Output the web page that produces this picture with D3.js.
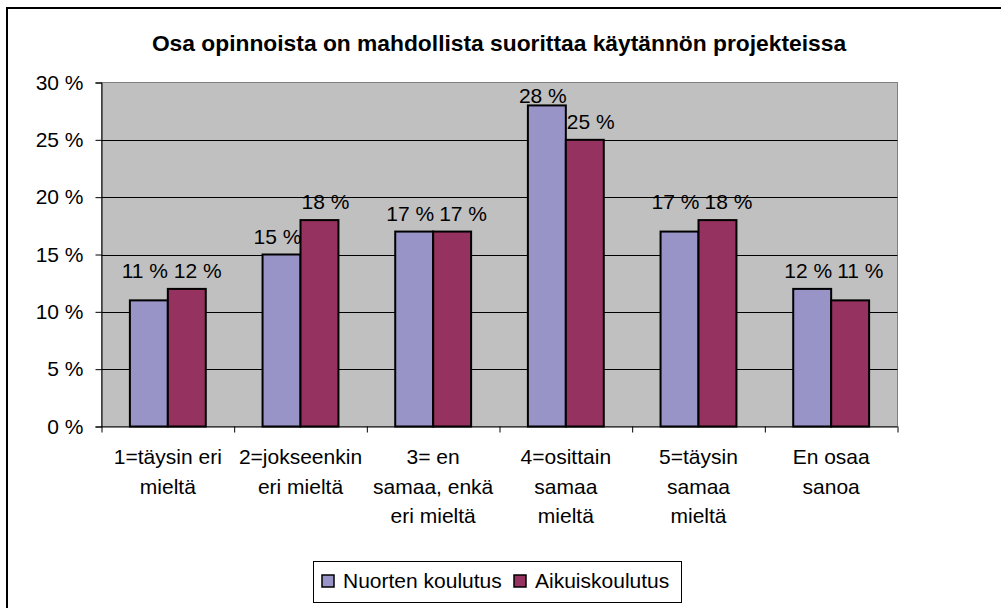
<!DOCTYPE html>
<html><head><meta charset="utf-8">
<script src="https://cdn.jsdelivr.net/npm/d3@7/dist/d3.min.js"></script>
<style>body{margin:0;background:#fff}svg{display:block}text{font-family:"Liberation Sans",Arial,sans-serif;fill:#000}</style>
</head><body>
<script>
const title = "Osa opinnoista on mahdollista suorittaa käytännön projekteissa";
const categories = [
  ["1=täysin eri", "mieltä"],
  ["2=jokseenkin", "eri mieltä"],
  ["3= en", "samaa, enkä", "eri mieltä"],
  ["4=osittain", "samaa", "mieltä"],
  ["5=täysin", "samaa", "mieltä"],
  ["En osaa", "sanoa"]
];
const seriesNames = ["Nuorten koulutus", "Aikuiskoulutus"];
const nuorten = [11, 15, 17, 28, 17, 12];
const aikuis = [12, 18, 17, 25, 18, 11];
const yTicks = [0, 5, 10, 15, 20, 25, 30];
const colors = ["#9894C8", "#95325F"];

const W = 1001, H = 608, FS = "21px";
const svg = d3.select("body").append("svg").attr("width", W).attr("height", H);
svg.append("rect").attr("x", 7).attr("y", 8).attr("width", 1000).attr("height", 610)
  .attr("fill", "#fff").attr("stroke", "#000").attr("stroke-width", 2);

const L = 101.5, R = 897.5, T = 82.5, B = 426.5;
const x = d3.scaleBand().domain(d3.range(categories.length)).range([L, R]);
const y = d3.scaleLinear().domain([0, 30]).range([B, T]);

svg.append("text").attr("x", 499).attr("y", 51).attr("text-anchor", "middle")
  .style("font-size", "22.8px").style("font-weight", "bold").text(title);

svg.append("rect").attr("x", L).attr("y", T).attr("width", R - L).attr("height", B - T)
  .attr("fill", "#C0C0C0").attr("stroke", "#808080").attr("stroke-width", 1);

// gridlines
svg.append("g").selectAll("line").data(yTicks.filter(d => d > 0 && d < 30)).join("line")
  .attr("x1", L).attr("x2", R).attr("y1", d => Math.round(y(d)) + 0.5).attr("y2", d => Math.round(y(d)) + 0.5)
  .attr("stroke", "#000").attr("stroke-width", 1);

// y axis
const yAxis = d3.axisLeft(y).tickValues(yTicks).tickFormat(d => d + " %").tickSize(6).tickPadding(12);
const gy = svg.append("g").attr("transform", `translate(${L},0)`).call(yAxis);
gy.select(".domain").attr("stroke", "#000");
gy.selectAll("text").style("font-size", FS).attr("font-family", null);

// x axis
const xAxis = d3.axisBottom(d3.scaleLinear().domain([0, categories.length]).range([L, R]))
  .tickValues(d3.range(categories.length + 1)).tickFormat("").tickSize(6);
const gx = svg.append("g").attr("transform", `translate(0,${B})`).call(xAxis);
gx.select(".domain").attr("d", `M${L},0.5H${R}`).attr("stroke", "#000");

// category labels
categories.forEach((lines, i) => {
  const t = svg.append("text").attr("text-anchor", "middle").style("font-size", FS);
  lines.forEach((ln, j) => {
    t.append("tspan").attr("x", x(i) + x.bandwidth() / 2).attr("y", 464 + j * 29.5).text(ln);
  });
});

// bars
const bw = x.bandwidth() * 0.286;
const data = [nuorten, aikuis];
const barX = (i, s) => x(i) + x.bandwidth() / 2 - bw + s * bw;
data.forEach((vals, s) => {
  svg.append("g").selectAll("rect").data(vals).join("rect")
    .attr("x", (d, i) => barX(i, s))
    .attr("y", d => y(d)).attr("width", bw).attr("height", d => B - y(d))
    .attr("fill", colors[s]).attr("stroke", "#000").attr("stroke-width", 2);
});

// data labels with simple collision handling
const lblG = svg.append("g");
categories.forEach((c, i) => {
  const labels = data.map((vals, s) => {
    const t = lblG.append("text").style("font-size", FS).attr("text-anchor", "middle").text(vals[i] + " %");
    const w = t.node().getComputedTextLength();
    let b = y(vals[i]) - 11;
    b = Math.max(b, T + 20);
    return {t, w, b, cx: barX(i, s) + bw / 2 + (s === 0 ? -4 : 6)};
  });
  const [a, b] = labels;
  if (Math.abs(a.b - b.b) < 17) {
    const base = Math.min(a.b, b.b);
    a.b = base; b.b = base;
    const mid = x(i) + x.bandwidth() / 2 + 4;
    a.cx = Math.min(a.cx, mid - a.w / 2 - 2);
    b.cx = Math.max(b.cx, mid + b.w / 2 + 2);
  }
  labels.forEach(l => l.t.attr("x", l.cx).attr("y", l.b));
});

// legend
const lg = svg.append("g");
lg.append("rect").attr("x", 313.5).attr("y", 561.5).attr("width", 368).attr("height", 41)
  .attr("fill", "#fff").attr("stroke", "#000").attr("stroke-width", 1);
const lx = [322, 514];
seriesNames.forEach((n, i) => {
  lg.append("rect").attr("x", lx[i]).attr("y", 575).attr("width", 12).attr("height", 12)
    .attr("fill", colors[i]).attr("stroke", "#000").attr("stroke-width", 1.5);
  lg.append("text").attr("x", lx[i] + 21).attr("y", 588).style("font-size", FS).text(n);
});
</script>
</body></html>
